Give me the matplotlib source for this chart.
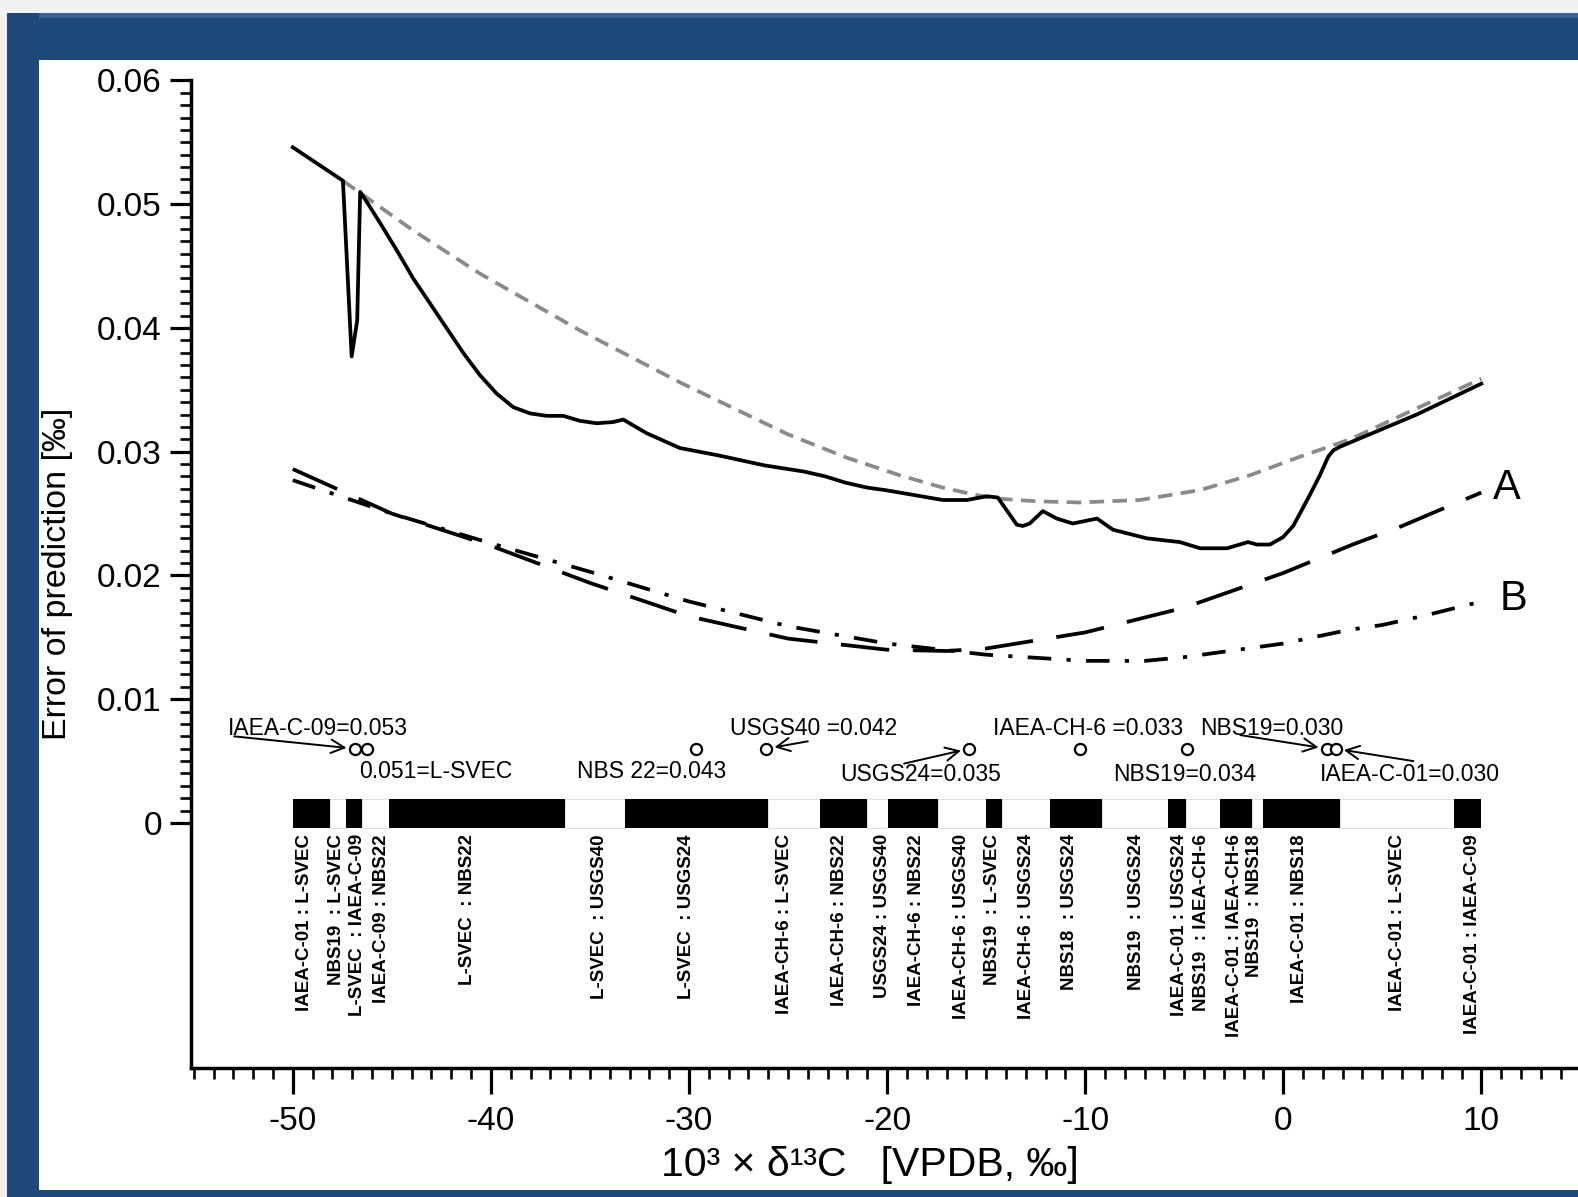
import matplotlib
matplotlib.use('Agg')
import matplotlib.pyplot as plt
from matplotlib.patches import Rectangle
from matplotlib.ticker import FixedLocator, FixedFormatter
import numpy as np

plt.rcParams['font.family'] = ['Liberation Sans', 'DejaVu Sans']
plt.rcParams['axes.unicode_minus'] = False
plt.rcParams['lines.scale_dashes'] = False

# ---------------- data ----------------
solid_x = [-50.0, -47.47, -47.03, -46.75, -46.6, -46.27, -45.60, -44.76, -43.92, -43.08,
           -42.24, -41.40, -40.56, -39.71, -38.87, -38.03, -37.19, -36.35, -35.51, -34.66,
           -33.83, -33.32, -32.14, -30.46, -28.5, -26.2, -24.2, -23.1, -22.1, -21.0,
           -20.1, -19.36, -17.19, -15.97, -14.96, -14.41, -13.45, -13.15, -12.8, -12.14,
           -11.43, -10.63, -9.4, -8.6, -6.88, -5.22, -4.2, -2.84, -1.78, -1.33,
           -0.67, -0.01, 0.50, 0.84, 1.34, 1.85, 2.27, 2.52, 2.86, 6.73, 10.0]
solid_y = [0.0546, 0.0519, 0.0377, 0.0406, 0.0510, 0.0502, 0.0485, 0.0463, 0.0440, 0.0420,
           0.0400, 0.0380, 0.0362, 0.0347, 0.0336, 0.0331, 0.0329, 0.0329, 0.0325, 0.0323,
           0.0324, 0.0326, 0.0315, 0.0303, 0.0297, 0.0289, 0.0284, 0.0280, 0.0275, 0.0271,
           0.0269, 0.0267, 0.0261, 0.0261, 0.0264, 0.0263, 0.0241, 0.0240, 0.0242, 0.0252,
           0.0246, 0.0242, 0.0246, 0.0237, 0.0230, 0.0227, 0.0222, 0.0222, 0.0227, 0.0225,
           0.0225, 0.0231, 0.0240, 0.0250, 0.0265, 0.0281, 0.0296, 0.0301, 0.0304, 0.0330,
           0.0355]

gray_x = [-47.47, -43.94, -40.56, -35.5, -30.45, -25.0, -22.0, -19.36, -17.19, -15.5,
          -14.3, -12.5, -10.3, -7.24, -4.2, -1.68, 0.85, 3.37, 6.73, 10.0]
gray_y = [0.0519, 0.0479, 0.0444, 0.0398, 0.0356, 0.0314, 0.0295, 0.0281, 0.0271, 0.0265,
          0.0262, 0.0260, 0.0259, 0.0261, 0.0269, 0.0281, 0.0296, 0.0310, 0.0335, 0.0359]

a_x = [-50, -45, -40, -35, -30, -25, -20, -17, -15, -10, -5, 0, 3.5, 6.0, 8.2, 10.0]
a_y = [0.0286, 0.0250, 0.0224, 0.0194, 0.0167, 0.0149, 0.0140, 0.0139, 0.0141, 0.0154,
       0.0174, 0.0202, 0.0225, 0.0240, 0.0255, 0.0267]

b_x = [-50, -45, -40, -35, -30, -25, -20, -15, -10, -7, -5, 0, 3.3, 5.0, 7.25, 10.0]
b_y = [0.0277, 0.0250, 0.0226, 0.0203, 0.0179, 0.0159, 0.0145, 0.0136, 0.0131, 0.0131,
       0.0134, 0.0145, 0.0156, 0.0160, 0.0168, 0.0179]

# segment boundaries of the best-pair bar and the pair labels
seg_bounds = [-50, -48.1, -47.3, -46.5, -45.15, -36.25, -33.24, -26.02, -23.39, -20.99,
              -19.93, -17.45, -15.01, -14.21, -11.78, -9.15, -5.82, -4.91, -3.2, -1.58,
              -1.03, 2.86, 8.61, 10.0]
seg_labels = ["IAEA-C-01 : L-SVEC", "NBS19  : L-SVEC", "L-SVEC  : IAEA-C-09",
              "IAEA-C-09 : NBS22", "L-SVEC  : NBS22", "L-SVEC  : USGS40",
              "L-SVEC  : USGS24", "IAEA-CH-6 : L-SVEC", "IAEA-CH-6 : NBS22",
              "USGS24 : USGS40", "IAEA-CH-6 : NBS22", "IAEA-CH-6 : USGS40",
              "NBS19  : L-SVEC", "IAEA-CH-6 : USGS24", "NBS18  : USGS24",
              "NBS19  : USGS24", "IAEA-C-01 : USGS24", "NBS19  : IAEA-CH-6",
              "IAEA-C-01 : IAEA-CH-6", "NBS19  : NBS18", "IAEA-C-01 : NBS18",
              "IAEA-C-01 : L-SVEC", "IAEA-C-01 : IAEA-C-09"]
seg_label_x = [-49.39, -47.77, -46.71, -45.50, -41.16, -34.50, -30.11, -25.17, -22.39,
               -20.22, -18.50, -16.23, -14.67, -12.95, -10.78, -7.40, -5.23, -4.12,
               -2.45, -1.44, 0.83, 5.78, 9.57]

# reference-material markers
ref_x = [-46.87, -46.28, -29.67, -26.1, -15.86, -10.25, -4.86, 2.2, 2.64]
ref_y = [0.0060] * 9

# annotation texts: (text, left x, centre y)
ann_text = ["IAEA-C-09=0.053", "0.051=L-SVEC", "NBS 22=0.043", "USGS40 =0.042",
            "USGS24=0.035", "IAEA-CH-6 =0.033", "NBS19=0.034", "NBS19=0.030",
            "IAEA-C-01=0.030"]
ann_x = [-53.3, -46.67, -35.66, -27.94, -22.38, -14.67, -8.6, -4.22, 1.87]
ann_y = [0.00765, 0.00415, 0.00415, 0.00765, 0.00388, 0.00765, 0.00388, 0.00765, 0.00388]

# arrows: (start, target)
arr_from = [(-52.96, 0.0070), (-24.0, 0.0066), (-19.14, 0.0048), (-2.16, 0.0071), (6.57, 0.0050)]
arr_to = [(-46.87, 0.0060), (-26.1, 0.0060), (-15.86, 0.0060), (2.2, 0.0060), (2.64, 0.0060)]

xticks = [-50, -40, -30, -20, -10, 0, 10]
yticks = [0, 0.01, 0.02, 0.03, 0.04, 0.05, 0.06]
ytick_labels = ["0", "0.01", "0.02", "0.03", "0.04", "0.05", "0.06"]

# ---------------- figure ----------------
W, H = 1578, 1197
fig = plt.figure(figsize=(W / 100, H / 100), dpi=100, facecolor='white')


def px_rect(x0, y0, x1, y1, color):
    fig.patches.append(Rectangle((x0 / W, 1 - y1 / H), (x1 - x0) / W, (y1 - y0) / H,
                                 transform=fig.transFigure, facecolor=color,
                                 edgecolor='none', zorder=0))


blue = '#1f4979'
px_rect(0, 0, W, 13, '#f1f1f1')
px_rect(0, 0, 7, H, '#f1f1f1')
px_rect(7, 13, W, 60, blue)
px_rect(7, 13, W, 18, '#3d6391')
px_rect(7, 13, 39, H, blue)
px_rect(7, 1190, W, H, blue)

ax = fig.add_axes([191 / W, 1 - 1068 / H, 1 - 191 / W, (1068 - 80.5) / H])
ax.set_facecolor('none')
ax.set_xlim(-55.14, 14.88)
ax.set_ylim(-0.0198, 0.06)

for s in ['top', 'right']:
    ax.spines[s].set_visible(False)
for s in ['left', 'bottom']:
    ax.spines[s].set_linewidth(2.5)

ax.xaxis.set_major_locator(FixedLocator(xticks))
ax.xaxis.set_major_formatter(FixedFormatter([str(v) for v in xticks]))
ax.xaxis.set_minor_locator(FixedLocator(np.arange(-55, 15, 1)))
ax.yaxis.set_major_locator(FixedLocator(yticks))
ax.yaxis.set_major_formatter(FixedFormatter(ytick_labels))
ax.yaxis.set_minor_locator(FixedLocator(np.arange(0, 0.0605, 0.001)))

ax.tick_params(axis='both', which='major', direction='out', labelsize=24, width=2.3)
ax.tick_params(axis='both', which='minor', direction='out', width=1.9)
ax.tick_params(axis='y', which='major', length=15, pad=6)
ax.tick_params(axis='y', which='minor', length=8)
ax.tick_params(axis='x', which='major', length=19, pad=8)
ax.tick_params(axis='x', which='minor', length=8)

# curves
ax.plot(gray_x, gray_y, color='#8a8a8a', lw=2.7, linestyle=(0, (10.5, 6)), zorder=3)
ax.plot(solid_x, solid_y, color='black', lw=2.7, zorder=4)
ax.plot(a_x, a_y, color='black', lw=2.7, linestyle=(0, (35, 17)), zorder=3)
ax.plot(b_x, b_y, color='black', lw=2.7, linestyle=(0, (17, 11, 3, 11)), zorder=3)

ax.text(11.28, 0.0271, 'A', fontsize=30, ha='center', va='center')
ax.text(11.6, 0.0181, 'B', fontsize=30, ha='center', va='center')

# bar of segments
bar_bottom, bar_top = -0.0004, 0.0019
for i in range(len(seg_bounds) - 1):
    x0, x1 = seg_bounds[i], seg_bounds[i + 1]
    if i % 2 == 0:
        ax.bar(x0, bar_top - bar_bottom, width=x1 - x0, bottom=bar_bottom, align='edge',
               color='black', edgecolor='none', zorder=3)
    else:
        ax.bar(x0, bar_top - bar_bottom, width=x1 - x0, bottom=bar_bottom, align='edge',
               color='white', edgecolor='#e0e0e0', linewidth=0.8, zorder=2)

for lx, lab in zip(seg_label_x, seg_labels):
    ax.text(lx, -0.0009, lab, rotation=90, ha='center', va='top', fontsize=13.5,
            fontweight='bold')

# markers
ax.plot(ref_x, ref_y, linestyle='none', marker='o', ms=8, mfc='white', mec='black',
        mew=1.6, zorder=5)

for t, x, y in zip(ann_text, ann_x, ann_y):
    ax.text(x, y, t, fontsize=16.5, ha='left', va='center')

for (x0, y0), (x1, y1) in zip(arr_from, arr_to):
    ax.annotate('', xy=(x1, y1), xytext=(x0, y0),
                arrowprops=dict(arrowstyle='->', lw=1.4, color='black', shrinkA=0,
                                shrinkB=6, mutation_scale=24), zorder=6)

fig.text(58 / W, 1 - 574 / H, 'Error of prediction [‰]', rotation=90, fontsize=24.5,
         ha='center', va='center')
fig.text(870 / W, 1 - 1165 / H, '10³ × δ¹³C   [VPDB, ‰]', fontsize=29.5,
         ha='center', va='center')

fig.savefig('out.png', dpi=100, facecolor='white')
